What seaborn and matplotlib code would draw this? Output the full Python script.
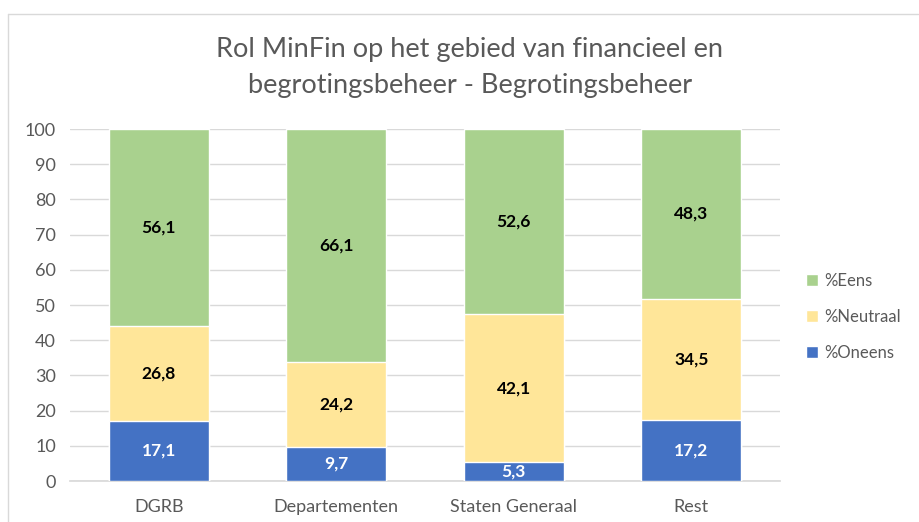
import matplotlib
matplotlib.use("Agg")
import matplotlib.pyplot as plt
import seaborn as sns
import pandas as pd
from matplotlib.lines import Line2D
from matplotlib.patches import Patch

categories = ["DGRB", "Departementen", "Staten Generaal", "Rest"]
oneens = [17.1, 9.7, 5.3, 17.2]
neutraal = [26.8, 24.2, 42.1, 34.5]
eens = [56.1, 66.1, 52.6, 48.3]
series_names = ["%Oneens", "%Neutraal", "%Eens"]
colors = {"%Oneens": "#4472c4", "%Neutraal": "#ffe699", "%Eens": "#a9d18e"}
title = "Rol MinFin op het gebied van financieel en\nbegrotingsbeheer - Begrotingsbeheer"

sns.set_theme(style="white")
plt.rcParams["font.family"] = ["Lato", "DejaVu Sans"]

df = pd.DataFrame({"cat": categories, "%Oneens": oneens,
                   "%Neutraal": neutraal, "%Eens": eens})
df["c1"] = df["%Oneens"]
df["c2"] = df["c1"] + df["%Neutraal"]
df["c3"] = df["c2"] + df["%Eens"]

fig = plt.figure(figsize=(9.19, 5.22), dpi=100)
ax = fig.add_axes([70/919, 41/522, 710/919, 352/522])

bw = 100/178
sns.barplot(data=df, x="cat", y="c3", color=colors["%Eens"], width=bw,
            saturation=1, ax=ax, zorder=3)
sns.barplot(data=df, x="cat", y="c2", color=colors["%Neutraal"], width=bw,
            saturation=1, ax=ax, zorder=3)
sns.barplot(data=df, x="cat", y="c1", color=colors["%Oneens"], width=bw,
            saturation=1, ax=ax, zorder=3)

lab_fs = 12.5
for i, row in df.iterrows():
    ax.text(i, row["c1"]/2, f"{row['%Oneens']:.1f}".replace(".", ","),
            ha="center", va="center", color="white", fontsize=lab_fs,
            fontweight="bold", zorder=5)
    ax.text(i, (row["c1"]+row["c2"])/2, f"{row['%Neutraal']:.1f}".replace(".", ","),
            ha="center", va="center", color="black", fontsize=lab_fs,
            fontweight="bold", zorder=5)
    ax.text(i, (row["c2"]+row["c3"])/2, f"{row['%Eens']:.1f}".replace(".", ","),
            ha="center", va="center", color="black", fontsize=lab_fs,
            fontweight="bold", zorder=5)

ax.set_xlim(-0.5, 3.5)
ax.set_ylim(0, 100)
ax.set_yticks(range(0, 101, 10))
ax.yaxis.grid(True, color="#d9d9d9", linewidth=1)
ax.set_axisbelow(True)
for s in ["top", "right", "left"]:
    ax.spines[s].set_visible(False)
ax.spines["bottom"].set_color("#d9d9d9")
ax.set_xlabel("")
ax.set_ylabel("")
ax.tick_params(axis="both", length=0, labelsize=13, colors="#595959")
ax.tick_params(axis="x", pad=13)
ax.tick_params(axis="y", pad=10)

fig.text(470/919, 1 - 67/522, title, ha="center", va="center", fontsize=19.5,
         color="#595959", linespacing=1.55)

handles = [Patch(facecolor=colors[n], label=n) for n in ["%Eens", "%Neutraal", "%Oneens"]]
leg = fig.legend(handles=handles, loc="center left",
                 bbox_to_anchor=(806/919, 1 - 317/522), frameon=False,
                 fontsize=12, handlelength=0.7, handleheight=0.7,
                 handletextpad=0.4, labelspacing=1.2, labelcolor="#595959",
                 borderaxespad=0, borderpad=0)

# chart border
fig.add_artist(Line2D([8/919, 918/919], [1 - 14/522, 1 - 14/522],
                      transform=fig.transFigure, color="#d9d9d9", linewidth=1))
fig.add_artist(Line2D([8/919, 8/919], [0, 1 - 14/522],
                      transform=fig.transFigure, color="#d9d9d9", linewidth=1))

fig.savefig("out.png", dpi=100)
